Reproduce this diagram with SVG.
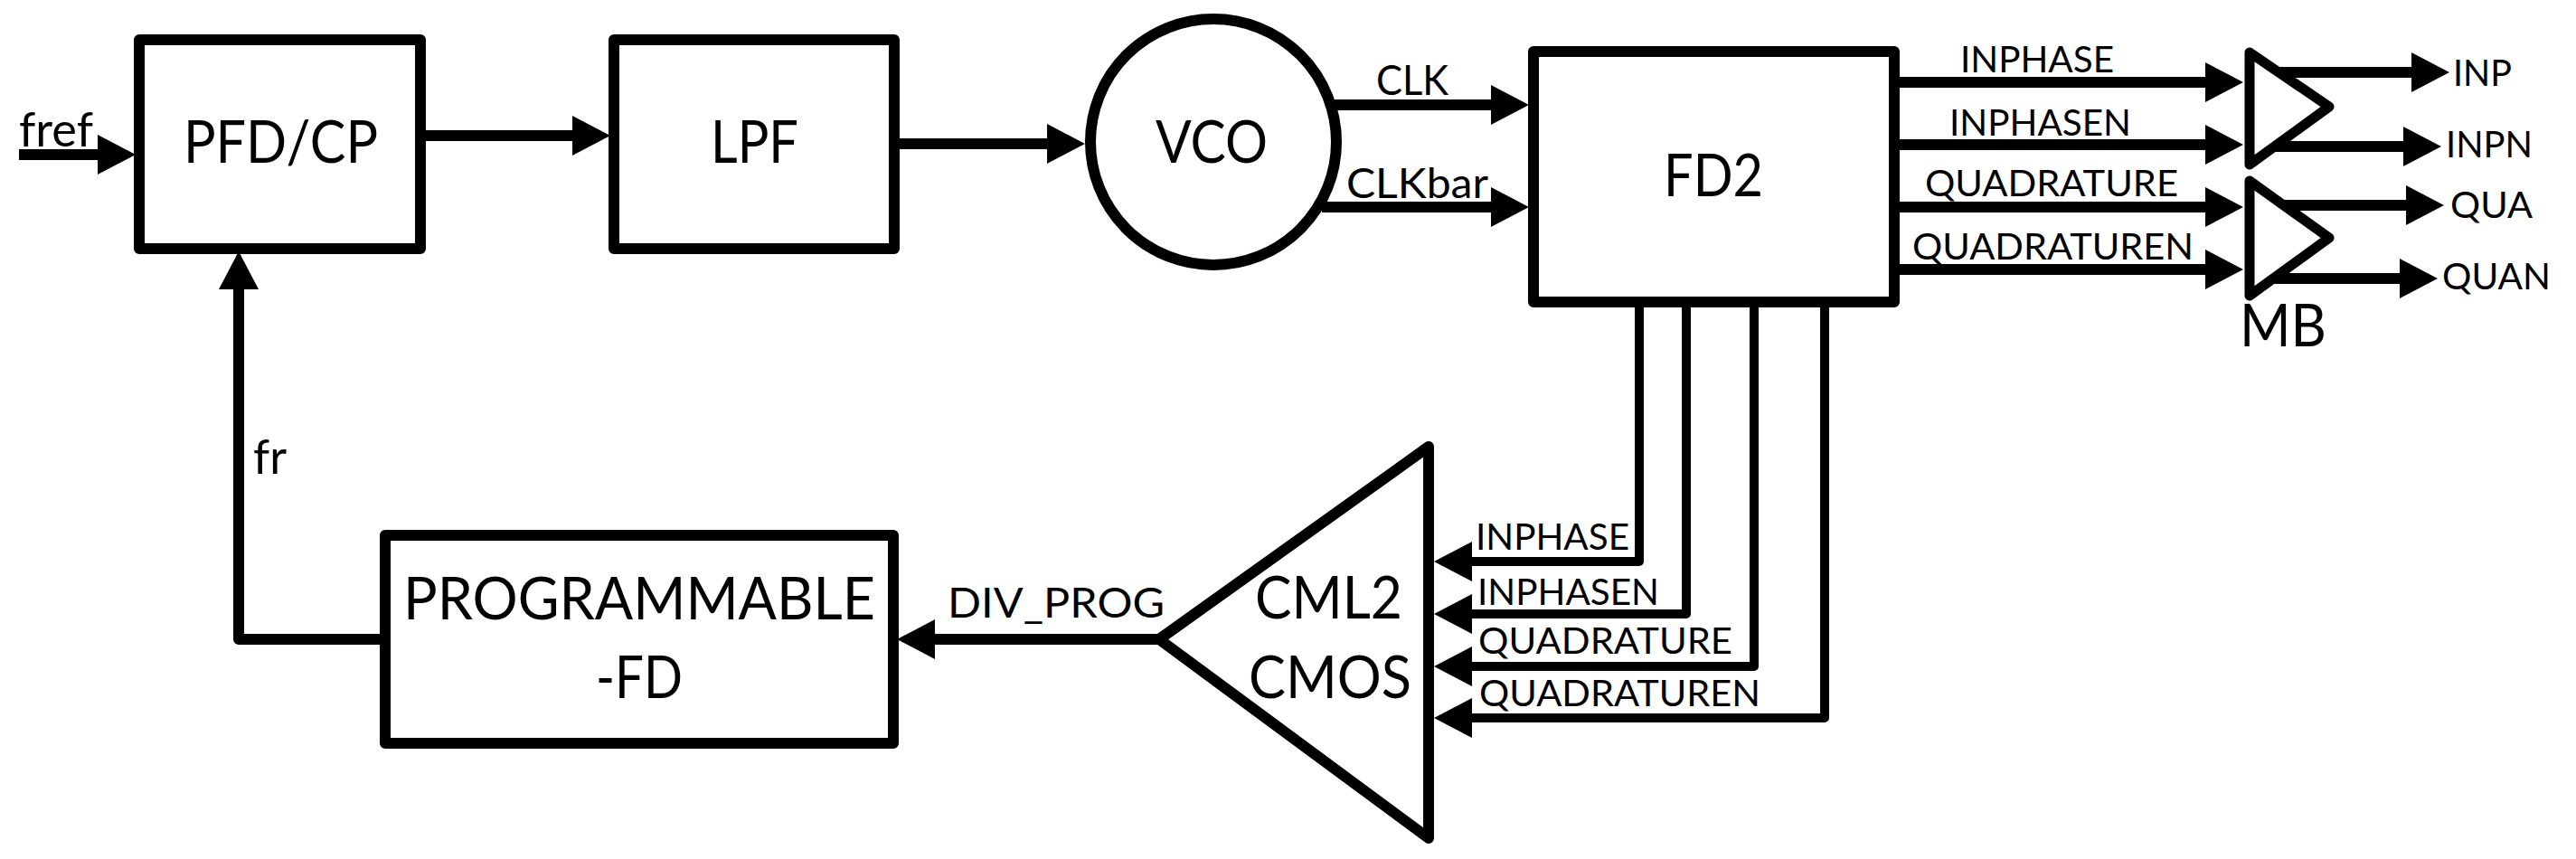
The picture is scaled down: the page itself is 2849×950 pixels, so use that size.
<svg xmlns="http://www.w3.org/2000/svg" width="2849" height="950" viewBox="0 0 2849 950">
<style>
text{font-family:"Lato","Liberation Sans",sans-serif;fill:#000}
.b{font-size:66px}
.s{font-size:41px}
.m{font-size:47px}
.f{font-size:52px}
.n{fill:#fff;stroke:#000;stroke-width:12;stroke-linejoin:round}
.t{stroke-width:11}
.c{fill:none;stroke:#000;stroke-width:12;stroke-linejoin:round;marker-end:url(#ah)}
.w{stroke-width:10}
</style>
<defs>
<marker id="ah" markerUnits="userSpaceOnUse" markerWidth="42" markerHeight="44" viewBox="0 0 42 44" refX="0" refY="22" orient="auto" overflow="visible"><path d="M0 0L42 22L0 44Z" fill="#000"/></marker>
</defs>
<rect width="2849" height="950" fill="#fff"/>
<g id="connectors">
<path class="c" d="M21 171H108"/>
<path class="c" d="M465 150H633"/>
<path class="c" d="M989 159H1158"/>
<path class="c" d="M1476 116H1649"/>
<path class="c" d="M1462 229H1649"/>
<path class="c" d="M2095 91H2439"/>
<path class="c" d="M2095 160H2439"/>
<path class="c" d="M2095 229H2439"/>
<path class="c" d="M2095 298H2439"/>
<path class="c" d="M2515 80H2667"/>
<path class="c" d="M2515 162H2658"/>
<path class="c" d="M2515 227H2661"/>
<path class="c" d="M2515 308H2654"/>
<path class="c w" d="M1813 333V621H1628"/>
<path class="c w" d="M1865 333V679H1628"/>
<path class="c w" d="M1940 333V737H1628"/>
<path class="c w" d="M2018 333V794H1628"/>
<path class="c" d="M1284 707H1034"/>
<path class="c" d="M426 707H264V320"/>
<text class="f" x="21" y="162" textLength="82" lengthAdjust="spacingAndGlyphs">fref</text>
<text class="f" x="280" y="524" textLength="37" lengthAdjust="spacingAndGlyphs">fr</text>
<text class="m" x="1522" y="105" textLength="80" lengthAdjust="spacingAndGlyphs">CLK</text>
<text class="m" x="1489" y="219" textLength="157" lengthAdjust="spacingAndGlyphs">CLKbar</text>
<text class="s" x="2168" y="80" textLength="170" lengthAdjust="spacingAndGlyphs">INPHASE</text>
<text class="s" x="2156" y="150" textLength="201" lengthAdjust="spacingAndGlyphs">INPHASEN</text>
<text class="s" x="2129" y="217" textLength="280" lengthAdjust="spacingAndGlyphs">QUADRATURE</text>
<text class="s" x="2115" y="287" textLength="311" lengthAdjust="spacingAndGlyphs">QUADRATUREN</text>
<text class="s" x="2713" y="95" textLength="65" lengthAdjust="spacingAndGlyphs">INP</text>
<text class="s" x="2705" y="174" textLength="96" lengthAdjust="spacingAndGlyphs">INPN</text>
<text class="s" x="2710" y="241" textLength="91" lengthAdjust="spacingAndGlyphs">QUA</text>
<text class="s" x="2701" y="320" textLength="120" lengthAdjust="spacingAndGlyphs">QUAN</text>
<text class="s" x="1632" y="608" textLength="170" lengthAdjust="spacingAndGlyphs">INPHASE</text>
<text class="s" x="1634" y="669" textLength="201" lengthAdjust="spacingAndGlyphs">INPHASEN</text>
<text class="s" x="1635" y="723" textLength="281" lengthAdjust="spacingAndGlyphs">QUADRATURE</text>
<text class="s" x="1636" y="781" textLength="311" lengthAdjust="spacingAndGlyphs">QUADRATUREN</text>
<text class="m" x="1048" y="683" textLength="240" lengthAdjust="spacingAndGlyphs">DIV_PROG</text>
</g>
<g id="pfd-cp"><rect class="n" x="154" y="44" width="311" height="231"/><text class="b" x="203" y="180" textLength="215" lengthAdjust="spacingAndGlyphs">PFD/CP</text></g>
<g id="lpf"><rect class="n" x="679" y="44" width="310" height="231"/><text class="b" x="786" y="180" textLength="97" lengthAdjust="spacingAndGlyphs">LPF</text></g>
<g id="vco"><circle class="n" cx="1342" cy="157" r="136"/><text class="b" x="1278" y="180" textLength="124" lengthAdjust="spacingAndGlyphs">VCO</text></g>
<g id="fd2"><rect class="n" x="1696" y="57" width="399" height="277"/><text class="b" x="1840" y="217" textLength="110" lengthAdjust="spacingAndGlyphs">FD2</text></g>
<g id="mb">
<path class="n t" d="M2488 58L2576 118L2488 182Z"/>
<path class="n t" d="M2488 200L2576 263L2488 327Z"/>
<text class="b" x="2477" y="383" textLength="96" lengthAdjust="spacingAndGlyphs">MB</text>
</g>
<g id="cml2cmos"><path class="n" d="M1282 707L1580 494V927Z"/><text class="b" x="1388" y="684" textLength="163" lengthAdjust="spacingAndGlyphs">CML2</text><text class="b" x="1381" y="772" textLength="180" lengthAdjust="spacingAndGlyphs">CMOS</text></g>
<g id="programmable-fd"><rect class="n" x="426" y="592" width="562" height="230"/><text class="b" x="446" y="685" textLength="522" lengthAdjust="spacingAndGlyphs">PROGRAMMABLE</text><text class="b" x="659" y="772" textLength="96" lengthAdjust="spacingAndGlyphs">-FD</text></g>
</svg>
